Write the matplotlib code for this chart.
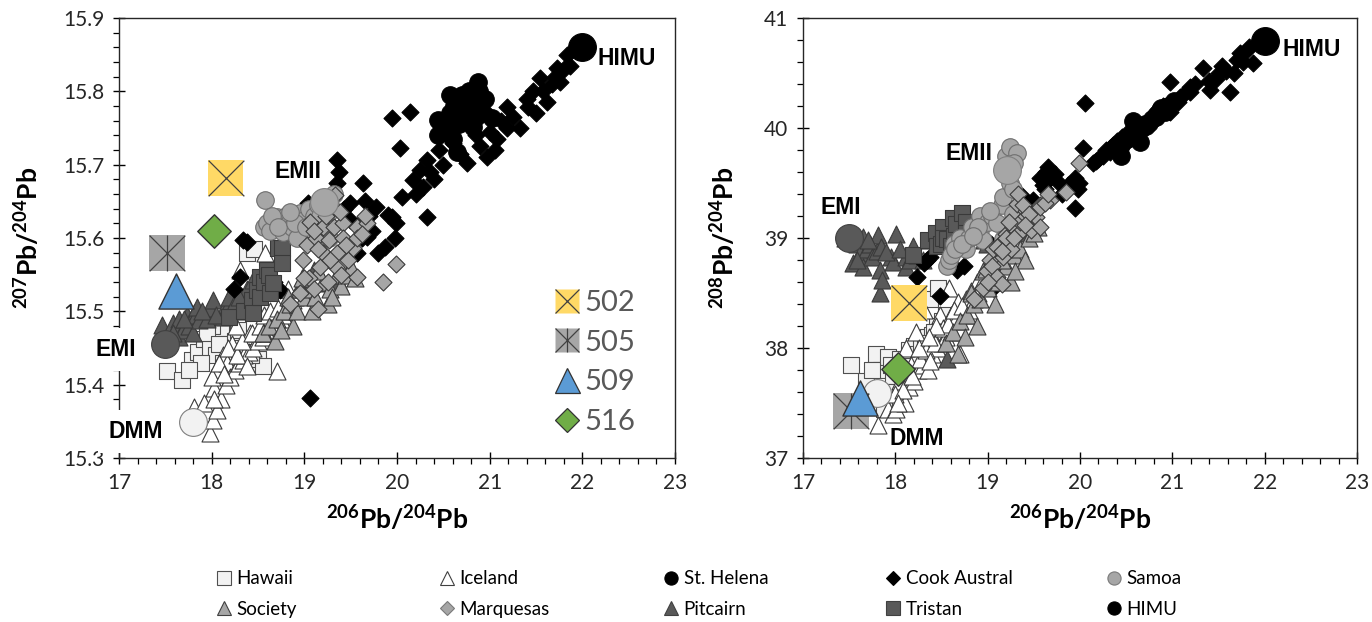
import matplotlib
matplotlib.use("Agg")
import matplotlib.pyplot as plt
from matplotlib.lines import Line2D
from matplotlib.ticker import MultipleLocator

plt.rcParams['font.family'] = ['Lato', 'DejaVu Sans']
plt.rcParams['mathtext.fontset'] = 'custom'
plt.rcParams['mathtext.rm'] = 'Lato'
plt.rcParams['mathtext.bf'] = 'Lato:bold'

# ---------------- OIB data: 206Pb/204Pb, 207Pb/204Pb, 208Pb/204Pb ----------------
hawaii_206 = [17.52, 17.68, 17.79, 17.85, 17.92, 17.98, 18.05, 18.10, 18.15, 18.20, 18.25, 18.30,
              18.35, 18.40, 18.45, 18.50, 18.55, 18.38, 18.46, 18.00, 17.88, 18.12, 18.28, 17.95,
              17.75, 18.08, 18.32, 18.42]
hawaii_207 = [15.418, 15.406, 15.433, 15.445, 15.462, 15.450, 15.440, 15.470, 15.455, 15.440, 15.460, 15.450,
              15.430, 15.445, 15.430, 15.435, 15.425, 15.580, 15.585, 15.480, 15.430, 15.430, 15.475, 15.470,
              15.420, 15.455, 15.440, 15.440]
hawaii_208 = [37.85, 37.70, 37.95, 37.80, 37.92, 37.75, 37.90, 37.85, 37.98, 38.02, 37.95, 38.05,
              38.10, 38.12, 38.20, 38.25, 38.30, 38.45, 38.55, 37.60, 37.45, 37.70, 38.00, 37.85,
              37.80, 37.80, 38.05, 38.15]

iceland_206 = [17.81, 17.92, 17.98, 18.01, 18.02, 18.05, 18.06, 18.10, 18.12, 18.15, 18.17, 18.20,
               18.22, 18.25, 18.30, 18.31, 18.34, 18.35, 18.40, 18.41, 18.45, 18.48, 18.50, 18.55,
               18.58, 18.60, 18.60, 18.65, 18.68, 18.70, 18.75, 18.77, 18.80, 18.85, 18.88, 18.90,
               18.00, 18.08, 18.13, 18.18, 18.27, 18.33, 18.38, 18.43, 18.52, 18.57, 18.63, 18.72,
               18.82, 18.95, 18.03, 18.26, 18.44, 18.36]
iceland_207 = [15.370, 15.375, 15.334, 15.352, 15.395, 15.420, 15.365, 15.380, 15.440, 15.400, 15.430, 15.410,
               15.455, 15.420, 15.430, 15.556, 15.434, 15.440, 15.445, 15.470, 15.450, 15.500, 15.460, 15.465,
               15.580, 15.470, 15.484, 15.480, 15.530, 15.418, 15.490, 15.495, 15.500, 15.510, 15.515, 15.520,
               15.410, 15.430, 15.415, 15.450, 15.440, 15.460, 15.425, 15.470, 15.480, 15.495, 15.500, 15.505,
               15.530, 15.535, 15.380, 15.480, 15.520, 15.500]
iceland_208 = [37.30, 37.45, 37.40, 37.45, 37.62, 37.70, 37.55, 37.50, 38.00, 37.65, 37.85, 37.70,
               38.15, 37.80, 37.85, 38.35, 37.95, 37.80, 37.95, 38.10, 38.00, 38.30, 38.05, 38.10,
               38.55, 38.15, 38.30, 38.25, 38.42, 37.95, 38.30, 38.45, 38.35, 38.45, 38.60, 38.50,
               37.58, 37.62, 37.78, 37.75, 37.90, 37.98, 37.88, 38.05, 38.18, 38.22, 38.35, 38.38,
               38.52, 38.62, 37.50, 38.00, 38.20, 38.10]

society_206 = [18.55, 18.62, 18.68, 18.70, 18.78, 18.85, 18.88, 18.92, 18.95, 19.00,
               19.05, 19.08, 19.12, 19.20, 19.25, 19.28, 19.35, 19.40, 19.45, 19.55,
               18.98, 19.15, 19.30, 18.75, 19.50, 18.82]
society_207 = [15.470, 15.480, 15.460, 15.490, 15.500, 15.510, 15.480, 15.500, 15.530, 15.520,
               15.530, 15.500, 15.520, 15.540, 15.510, 15.530, 15.550, 15.535, 15.550, 15.546,
               15.545, 15.555, 15.520, 15.475, 15.560, 15.520]
society_208 = [38.05, 38.15, 37.95, 38.25, 38.30, 38.40, 38.20, 38.45, 38.70, 38.55,
               38.60, 38.40, 38.65, 38.75, 38.60, 38.85, 38.90, 38.80, 39.00, 39.10,
               38.72, 38.80, 38.70, 38.10, 39.05, 38.50]

pitcairn_206 = [17.46, 17.54, 17.58, 17.62, 17.65, 17.65, 17.69, 17.73, 17.75, 17.80, 17.81,
                17.83, 17.83, 17.84, 17.86, 17.95, 17.98, 18.01, 18.12, 18.12, 18.16, 18.19,
                18.24, 18.38, 18.45, 18.56, 18.96, 18.99, 19.10, 19.25, 19.37,
                17.70, 17.90, 18.05, 18.30, 17.58]
pitcairn_207 = [15.481, 15.470, 15.484, 15.478, 15.490, 15.465, 15.475, 15.495, 15.480, 15.470, 15.498,
                15.500, 15.495, 15.506, 15.488, 15.490, 15.505, 15.515, 15.500, 15.492, 15.502, 15.520,
                15.510, 15.530, 15.543, 15.470, 15.535, 15.547, 15.556, 15.539, 15.540,
                15.490, 15.500, 15.495, 15.520, 15.470]
pitcairn_208 = [39.00, 38.77, 38.95, 38.86, 39.01, 38.74, 38.90, 38.95, 38.83, 38.88, 39.03,
                38.71, 38.50, 38.92, 38.62, 38.83, 38.78, 39.04, 38.83, 38.74, 38.80, 38.93,
                38.85, 38.98, 38.95, 37.90, 38.98, 38.95, 38.92, 38.95, 39.05,
                38.98, 38.87, 38.90, 38.80, 38.80]

tristan_206 = [18.19, 18.35, 18.44, 18.45, 18.49, 18.52, 18.52, 18.56, 18.60, 18.62, 18.63, 18.66,
               18.72, 18.76, 18.76]
tristan_207 = [15.492, 15.500, 15.515, 15.498, 15.529, 15.547, 15.520, 15.540, 15.556, 15.550, 15.525, 15.539,
               15.587, 15.586, 15.566]
tristan_208 = [38.85, 38.98, 39.05, 38.93, 38.95, 39.10, 39.00, 38.99, 38.93, 39.18, 39.02, 39.13,
               39.23, 39.15, 39.05]

samoa_206 = [18.56, 18.58, 18.60, 18.63, 18.70, 18.77, 18.80, 18.83, 18.87, 18.92, 18.92, 18.95,
             19.00, 19.05, 19.10, 19.15, 19.17, 19.17, 19.20, 19.24, 19.24, 19.27, 19.27, 19.32,
             18.65, 18.72, 18.90, 19.02, 19.22, 19.28, 18.84]
samoa_207 = [15.615, 15.652, 15.620, 15.610, 15.629, 15.608, 15.630, 15.620, 15.615, 15.631, 15.600, 15.634,
             15.625, 15.640, 15.630, 15.645, 15.620, 15.630, 15.655, 15.650, 15.610, 15.635, 15.600, 15.660,
             15.630, 15.615, 15.620, 15.615, 15.640, 15.645, 15.635]
samoa_208 = [38.75, 38.80, 38.85, 38.95, 39.00, 38.90, 39.00, 39.10, 39.05, 39.07, 39.20, 38.98,
             39.15, 39.20, 39.14, 39.30, 39.37, 38.99, 39.75, 39.83, 39.50, 39.45, 39.22, 39.77,
             38.90, 38.95, 39.10, 39.25, 39.60, 39.68, 39.02]

marquesas_206 = [18.85, 18.95, 18.99, 19.03, 19.05, 19.06, 19.10, 19.13, 19.15, 19.17, 19.20, 19.20, 19.25, 19.27,
                 19.32, 19.33, 19.34, 19.35, 19.42, 19.42, 19.47, 19.52, 19.57, 19.57, 19.57, 19.68, 19.85, 19.99,
                 19.10, 19.23, 19.38, 19.45, 19.62, 19.28, 19.15, 19.00, 19.40, 19.65]
marquesas_207 = [15.510, 15.525, 15.570, 15.590, 15.545, 15.622, 15.530, 15.600, 15.503, 15.560, 15.615, 15.580,
                 15.540, 15.597, 15.615, 15.658, 15.560, 15.580, 15.620, 15.600, 15.570, 15.586, 15.615, 15.600,
                 15.547, 15.620, 15.540, 15.564,
                 15.610, 15.630, 15.635, 15.590, 15.605, 15.570, 15.585, 15.545, 15.550, 15.630]
marquesas_208 = [38.45, 38.55, 38.70, 38.80, 38.75, 38.90, 38.65, 38.95, 38.58, 38.83, 39.04, 39.00,
                 38.90, 39.10, 39.31, 39.40, 39.05, 39.15, 39.25, 39.20, 39.07, 39.19, 39.30, 39.28,
                 39.10, 39.35, 39.42, 39.68,
                 38.92, 39.15, 39.30, 39.22, 39.32, 39.00, 38.88, 38.60, 39.12, 39.40]

cook_206 = [18.24, 18.31, 18.34, 18.38, 18.48, 18.67, 18.74, 19.04, 19.06, 19.35,
            19.37, 19.35, 19.43, 19.49, 19.49, 19.57, 19.62, 19.63, 19.65, 19.68,
            19.73, 19.77, 19.80, 19.87, 19.90, 19.95, 19.95, 19.99, 19.98, 20.03,
            20.05, 20.14, 20.17, 20.25, 20.32, 20.32, 20.40, 20.50, 20.76, 20.85,
            20.97, 20.97, 21.06, 21.12, 21.19, 21.19, 21.33, 21.40, 21.41, 21.47,
            21.54, 21.62, 21.67, 21.73, 21.76, 21.83, 21.87, 20.60, 20.68, 20.90,
            20.20, 20.28, 20.36, 20.45, 20.55, 21.00, 21.08, 21.25, 21.50, 21.58,
            21.70, 21.80, 19.60, 19.70]
cook_207 = [15.530, 15.547, 15.597, 15.595, 15.520, 15.540, 15.529, 15.648, 15.382, 15.706,
            15.690, 15.675, 15.640, 15.648, 15.625, 15.580, 15.600, 15.675, 15.650, 15.601,
            15.610, 15.642, 15.580, 15.588, 15.632, 15.628, 15.764, 15.620, 15.600, 15.723,
            15.656, 15.772, 15.679, 15.693, 15.706, 15.629, 15.680, 15.700, 15.702, 15.740,
            15.710, 15.770, 15.720, 15.760, 15.778, 15.750, 15.750, 15.790, 15.778, 15.800,
            15.818, 15.786, 15.810, 15.832, 15.813, 15.850, 15.835, 15.730, 15.715, 15.725,
            15.660, 15.670, 15.690, 15.720, 15.750, 15.745, 15.735, 15.765, 15.770, 15.800,
            15.820, 15.830, 15.620, 15.630]
cook_208 = [38.65, 38.77, 38.80, 38.83, 38.47, 38.71, 38.75, 38.95, 38.55, 39.30,
            39.38, 39.25, 39.32, 39.35, 39.30, 39.55, 39.45, 39.60, 39.65, 39.55,
            39.58, 39.50, 39.40, 39.48, 39.50, 39.27, 39.55, 39.50, 39.45, 39.82,
            40.23, 39.68, 39.70, 39.75, 39.82, 39.78, 39.88, 39.95, 40.07, 40.12,
            40.15, 40.42, 40.24, 40.30, 40.37, 40.33, 40.55, 40.43, 40.35, 40.45,
            40.56, 40.33, 40.50, 40.68, 40.60, 40.74, 40.59, 39.98, 40.02, 40.20,
            39.72, 39.80, 39.85, 39.92, 39.96, 40.22, 40.28, 40.40, 40.50, 40.52,
            40.62, 40.70, 39.48, 39.56]

sthelena_206 = [20.44, 20.44, 20.51, 20.57, 20.57, 20.65, 20.67, 20.71, 20.78, 20.82, 20.82, 20.87,
                20.92, 21.02, 20.60, 20.75, 20.62, 20.70, 20.85, 20.95, 20.48, 20.88]
sthelena_207 = [15.761, 15.740, 15.745, 15.795, 15.770, 15.717, 15.755, 15.770, 15.800, 15.780, 15.752, 15.813,
                15.770, 15.763, 15.735, 15.790, 15.780, 15.795, 15.765, 15.790, 15.755, 15.800]
sthelena_208 = [39.75, 39.85, 39.90, 40.06, 39.95, 39.87, 40.00, 40.02, 40.08, 40.12, 40.10, 40.16,
                40.15, 40.25, 39.92, 40.05, 40.00, 40.04, 40.14, 40.20, 39.88, 40.18]

# mantle end-members
em_names = ['DMM', 'EMI', 'EMII', 'HIMU']
em_206 = [17.80, 17.50, 19.21, 22.00]
em_207 = [15.349, 15.455, 15.649, 15.860]
em_208 = [37.59, 39.00, 39.62, 40.79]

# samples
sample_ids = ['502', '505', '509', '516']
sample_206 = [18.15, 17.52, 17.62, 18.03]
sample_207 = [15.682, 15.580, 15.528, 15.610]
sample_208 = [38.41, 37.43, 37.55, 37.81]

# ---------------- styles ----------------
EDGE = '#3a3a3a'
groups = [
    ('Hawaii', hawaii_206, hawaii_207, hawaii_208, dict(marker='s', s=140, fc='#f2f2f2', ec='#505050')),
    ('Iceland', iceland_206, iceland_207, iceland_208, dict(marker='^', s=150, fc='white', ec=EDGE)),
    ('Pitcairn', pitcairn_206, pitcairn_207, pitcairn_208, dict(marker='^', s=150, fc='#595959', ec=EDGE)),
    ('Cook Austral', cook_206, cook_207, cook_208, dict(marker='D', s=75, fc='black', ec='black')),
    ('St. Helena', sthelena_206, sthelena_207, sthelena_208, dict(marker='o', s=160, fc='black', ec='black')),
    ('Tristan', tristan_206, tristan_207, tristan_208, dict(marker='s', s=140, fc='#595959', ec=EDGE)),
    ('Samoa', samoa_206, samoa_207, samoa_208, dict(marker='o', s=160, fc='#a6a6a6', ec='#6e6e6e')),
    ('Society', society_206, society_207, society_208, dict(marker='^', s=150, fc='#a6a6a6', ec=EDGE)),
    ('Marquesas', marquesas_206, marquesas_207, marquesas_208, dict(marker='D', s=75, fc='#a6a6a6', ec=EDGE)),
]
em_colors = {'DMM': '#f2f2f2', 'EMI': '#595959', 'EMII': '#a6a6a6', 'HIMU': 'black'}
em_edges = {'DMM': '#7f7f7f', 'EMI': '#404040', 'EMII': '#7f7f7f', 'HIMU': 'black'}

fig = plt.figure(figsize=(13.72, 6.22), dpi=100)
W, H = 1372, 622
axL = fig.add_axes([119 / W, 1 - 458 / H, 556 / W, 440 / H])
axR = fig.add_axes([803 / W, 1 - 458 / H, 554 / W, 440 / H])


def style_axes(ax, ylim, ymaj, ymin):
    ax.set_xlim(17, 23)
    ax.set_ylim(*ylim)
    ax.xaxis.set_major_locator(MultipleLocator(1))
    ax.xaxis.set_minor_locator(MultipleLocator(0.2))
    ax.yaxis.set_major_locator(MultipleLocator(ymaj))
    ax.yaxis.set_minor_locator(MultipleLocator(ymin))
    ax.tick_params(which='major', direction='inout', length=9, width=1.0, labelsize=15,
                   labelcolor='#262626', pad=6)
    ax.tick_params(which='minor', direction='out', length=4, width=0.9)
    for sp in ax.spines.values():
        sp.set_linewidth(1.0)
        sp.set_color('#262626')


def draw_samples(ax, ys):
    sx = sample_206
    # 502: yellow square with cross
    ax.scatter(sx[0], ys[0], marker='s', s=660, c='#ffd966', edgecolors='none', zorder=10)
    ax.scatter(sx[0], ys[0], marker='x', s=660, c='#404040', linewidths=0.9, zorder=11)
    # 505: grey square with asterisk
    ax.scatter(sx[1], ys[1], marker='s', s=660, c='#a6a6a6', edgecolors='none', zorder=10)
    ax.scatter(sx[1], ys[1], marker='x', s=660, c='#404040', linewidths=0.9, zorder=11)
    ax.scatter(sx[1], ys[1], marker='|', s=660, c='#404040', linewidths=0.9, zorder=11)
    # 509: blue triangle
    ax.scatter(sx[2], ys[2], marker='^', s=640, c='#5b9bd5', edgecolors='#333333', linewidths=1.0, zorder=12)
    # 516: green diamond
    ax.scatter(sx[3], ys[3], marker='D', s=290, c='#70ad47', edgecolors='#333333', linewidths=1.0, zorder=12)


for ax, col in ((axL, 2), (axR, 3)):
    for name, x, y207, y208, st in groups:
        y = y207 if col == 2 else y208
        ax.scatter(x, y, marker=st['marker'], s=st['s'], facecolors=st['fc'],
                   edgecolors=st['ec'], linewidths=0.8, zorder=3)
    ey = em_207 if col == 2 else em_208
    for n, xx, yy in zip(em_names, em_206, ey):
        ax.scatter(xx, yy, marker='o', s=400, facecolors=em_colors[n], edgecolors=em_edges[n],
                   linewidths=0.8, zorder=6)
    draw_samples(ax, sample_207 if col == 2 else sample_208)

style_axes(axL, (15.3, 15.9), 0.1, 0.02)
style_axes(axR, (37, 41), 1, 0.2)
axL.yaxis.set_major_formatter(plt.FuncFormatter(lambda v, p: f'{v:.1f}'))

# end-member labels
lab_kw = dict(fontsize=16.5, fontweight='bold', family=['Liberation Sans', 'DejaVu Sans'],
              ha='center', va='center', zorder=20)
box = dict(boxstyle='square,pad=0.45', fc='white', ec='none')
axL.text(16.97, 15.448, 'EMI', bbox=box, clip_on=False, **lab_kw)
axL.text(17.18, 15.336, 'DMM', bbox=box, clip_on=False, **lab_kw)
axL.text(18.93, 15.690, 'EMII', **lab_kw)
axL.text(22.48, 15.845, 'HIMU', **lab_kw)
axR.text(17.41, 39.28, 'EMI', **lab_kw)
axR.text(18.23, 37.18, 'DMM', **lab_kw)
axR.text(18.80, 39.77, 'EMII', **lab_kw)
axR.text(22.51, 40.71, 'HIMU', **lab_kw)

# axis labels
axL.set_xlabel(r'$\mathbf{^{206}Pb/^{204}Pb}$', fontsize=19, labelpad=9)
axR.set_xlabel(r'$\mathbf{^{206}Pb/^{204}Pb}$', fontsize=19, labelpad=9)
axL.set_ylabel(r'$\mathbf{^{207}Pb/^{204}Pb}$', fontsize=19, labelpad=14)
axR.set_ylabel(r'$\mathbf{^{208}Pb/^{204}Pb}$', fontsize=19, labelpad=18)

# sample legend inside the left panel
h502 = (Line2D([], [], ls='none', marker='s', ms=17, mfc='#ffd966', mec='none'),
        Line2D([], [], ls='none', marker='x', ms=17, mec='#404040', mew=0.9))
h505 = (Line2D([], [], ls='none', marker='s', ms=17, mfc='#a6a6a6', mec='none'),
        Line2D([], [], ls='none', marker='x', ms=17, mec='#404040', mew=0.9),
        Line2D([], [], ls='none', marker='|', ms=17, mec='#404040', mew=0.9))
h509 = Line2D([], [], ls='none', marker='^', ms=18, mfc='#5b9bd5', mec='#333333', mew=0.9)
h516 = Line2D([], [], ls='none', marker='D', ms=12, mfc='#70ad47', mec='#333333', mew=0.9)
legS = axL.legend([h502, h505, h509, h516], sample_ids, loc='lower right',
                  bbox_to_anchor=(0.928, 0.052), frameon=False, fontsize=21,
                  handlelength=0.85, handletextpad=0.15, labelspacing=0.47,
                  borderpad=0, borderaxespad=0)
for t in legS.get_texts():
    t.set_color('#595959')

# bottom legend, two rows in five columns
leg_style = {
    'Hawaii': dict(marker='s', mfc='#f2f2f2', mec='#505050'),
    'Iceland': dict(marker='^', mfc='white', mec='#404040'),
    'St. Helena': dict(marker='o', mfc='black', mec='black'),
    'Cook Austral': dict(marker='D', mfc='black', mec='black'),
    'Samoa': dict(marker='o', mfc='#a6a6a6', mec='#7a7a7a'),
    'Society': dict(marker='^', mfc='#a6a6a6', mec='#404040'),
    'Marquesas': dict(marker='D', mfc='#a6a6a6', mec='#7a7a7a'),
    'Pitcairn': dict(marker='^', mfc='#595959', mec='#404040'),
    'Tristan': dict(marker='s', mfc='#595959', mec='#404040'),
    'HIMU': dict(marker='o', mfc='black', mec='black'),
}
columns = [('Hawaii', 'Society'), ('Iceland', 'Marquesas'), ('St. Helena', 'Pitcairn'),
           ('Cook Austral', 'Tristan'), ('Samoa', 'HIMU')]
col_x = [224, 447, 671, 893, 1114]
for names, cx in zip(columns, col_x):
    hs = []
    for n in names:
        st = leg_style[n]
        ms = 7 if st['marker'] == 'D' else 9.5
        hs.append(Line2D([], [], ls='none', ms=ms, mew=0.8, **st))
    fig.legend(hs, list(names), loc='center left', bbox_to_anchor=((cx - 8) / W, 1 - 594 / H),
               frameon=False, fontsize=13.5, handlelength=0.85, handletextpad=0.25,
               labelspacing=0.7, borderpad=0, borderaxespad=0)

fig.savefig('out.png', dpi=100, facecolor='white')
